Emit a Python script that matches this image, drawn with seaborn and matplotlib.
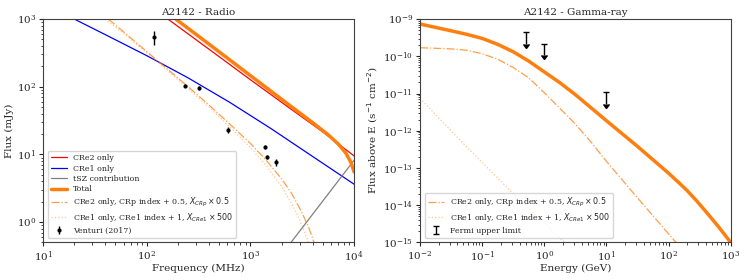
import numpy as np
import pandas as pd
import matplotlib
matplotlib.use("Agg")
import matplotlib.pyplot as plt
import matplotlib.ticker as mticker
import seaborn as sns

# ---- radio panel (MHz, mJy) ----
cre2_freq = [160, 398, 1000, 2512, 5012, 10000]
cre2_flux = [1000, 359, 127, 45.7, 21.4, 9.5]

cre1_freq = [20, 39.8, 100, 251, 631, 1585, 3981, 10000]
cre1_flux = [1000, 589, 288, 135, 58.9, 24.0, 9.33, 3.63]

tsz_freq = [2000, 10000]
tsz_flux = [0.33, 8.2]

total_freq = [190.5, 398, 1000, 2512, 3981, 5623, 7079, 8318, 9333, 10000]
total_flux = [1000, 427, 146, 50.1, 29.5, 19.5, 14.1, 10.5, 7.6, 5.5]

cre2_var_freq = [42.7, 63.1, 100, 158.5, 251, 398, 631, 1000, 1413, 1995, 2512,
                 3162, 3631, 4074, 4365]
cre2_var_flux = [1000, 603, 331, 182, 100, 53.7, 28.2, 14.5, 8.3, 4.37, 2.63,
                 1.35, 0.85, 0.52, 0.355]

cre1_var_freq = [39.8, 63.1, 100, 158.5, 251, 398, 631, 1000, 1413, 1995, 2512,
                 2951, 3311, 3631, 3802]
cre1_var_flux = [1000, 575, 316, 174, 93.3, 50.1, 25.7, 12.6, 6.92, 3.39, 1.86,
                 1.12, 0.74, 0.49, 0.355]

venturi_freq = [118, 235, 321, 608, 1383, 1456, 1780]
venturi_flux = [540, 104, 96, 23, 13, 9.2, 7.7]
venturi_err = [125, 6, 5, 2.5, 0.8, 0.6, 1.0]

# ---- gamma-ray panel (GeV, s^-1 cm^-2) ----
g_total_E = [0.01, 0.0178, 0.0316, 0.0562, 0.1, 0.178, 0.316, 0.562, 1.0, 1.78,
             3.16, 5.62, 10, 31.6, 100, 141, 200, 282, 398, 631, 1000]
g_total_F = [7.35e-10, 5.96e-10, 4.84e-10, 3.89e-10, 3.02e-10, 2.09e-10, 1.32e-10,
             7.41e-11, 3.80e-11, 1.95e-11, 9.33e-12, 4.17e-12, 1.86e-12, 3.80e-13,
             7.24e-14, 4.27e-14, 2.45e-14, 1.32e-14, 6.76e-15, 2.69e-15, 1.0e-15]

g_cre2_E = [0.01, 0.0316, 0.0562, 0.1, 0.178, 0.316, 0.562, 1.0, 1.78, 3.16, 5.62,
            10, 31.6, 100, 132]
g_cre2_F = [1.70e-10, 1.58e-10, 1.45e-10, 1.17e-10, 8.32e-11, 5.01e-11, 2.63e-11,
            1.05e-11, 3.98e-12, 1.51e-12, 5.01e-13, 1.51e-13, 1.58e-14, 1.70e-15,
            1.0e-15]

g_cre1_E = [0.01, 0.044, 0.28, 2.11]
g_cre1_F = [7.4e-12, 5.6e-13, 2.5e-14, 1.0e-15]

fermi_E = [0.5, 1.0, 10]
fermi_ul = [4.4e-10, 2.1e-10, 1.07e-11]

sns.set_style("ticks")
plt.rcParams["font.family"] = "serif"
plt.rcParams["font.serif"] = ["DejaVu Serif"]
plt.rcParams["mathtext.fontset"] = "dejavusans"
plt.rcParams["font.size"] = 7.5
plt.rcParams["axes.edgecolor"] = "0.25"

orange = "#ff7f0e"
lab_var2 = r"CRe2 only, CRp index + 0.5, $X_{CRp}\times 0.5$"
lab_var1 = r"CRe1 only, CRe1 index + 1, $X_{CRe1}\times 500$"

fig = plt.figure(figsize=(7.47, 2.8), dpi=100)
ax1 = fig.add_axes([0.0576, 0.134, 0.4164, 0.798])
ax2 = fig.add_axes([0.5623, 0.134, 0.4159, 0.798])


def curve(ax, x, y, **kw):
    df = pd.DataFrame({"x": x, "y": y})
    sns.lineplot(data=df, x="x", y="y", ax=ax, sort=False, estimator=None, **kw)


# radio
ax1.set_xscale("log")
ax1.set_yscale("log")
curve(ax1, cre2_freq, cre2_flux, color="red", lw=0.9, label="CRe2 only")
curve(ax1, cre1_freq, cre1_flux, color="blue", lw=0.9, label="CRe1 only")
curve(ax1, tsz_freq, tsz_flux, color="gray", lw=0.9, label="tSZ contribution")
curve(ax1, total_freq, total_flux, color=orange, lw=2.5, label="Total")
curve(ax1, cre2_var_freq, cre2_var_flux, color=orange, lw=0.9, alpha=0.75,
      linestyle="-.", label=lab_var2)
curve(ax1, cre1_var_freq, cre1_var_flux, color=orange, lw=0.9, alpha=0.45,
      linestyle=":", label=lab_var1)
ax1.errorbar(venturi_freq, venturi_flux, yerr=venturi_err, fmt="o", color="k",
             ms=2, elinewidth=1, capsize=0, label="Venturi (2017)")
ax1.set_xlim(10, 1e4)
ax1.set_ylim(0.5, 1e3)
ax1.set_xlabel("Frequency (MHz)", labelpad=0)
ax1.set_ylabel("Flux (mJy)", labelpad=2)
ax1.set_title("A2142 - Radio", fontsize=7.5, pad=3)
ax1.legend(loc="lower left", fontsize=5.7, labelspacing=0.3, framealpha=0.8,
           borderaxespad=0.6)

# gamma
ax2.set_xscale("log")
ax2.set_yscale("log")
curve(ax2, g_total_E, g_total_F, color=orange, lw=2.5)
curve(ax2, g_cre2_E, g_cre2_F, color=orange, lw=0.9, alpha=0.75, linestyle="-.",
      label=lab_var2)
curve(ax2, g_cre1_E, g_cre1_F, color=orange, lw=0.9, alpha=0.45, linestyle=":",
      label=lab_var1)
ax2.errorbar(fermi_E, fermi_ul, yerr=np.array(fermi_ul) * 0.5, uplims=True,
             fmt="none", ecolor="k", color="k", elinewidth=1, capsize=2,
             label="Fermi upper limit")
ax2.set_xlim(1e-2, 1e3)
ax2.set_ylim(1e-15, 1e-9)
ax2.set_xlabel("Energy (GeV)", labelpad=0)
ax2.set_ylabel(r"Flux above E (s$^{-1}$ cm$^{-2}$)", labelpad=2)
ax2.set_title("A2142 - Gamma-ray", fontsize=7.5, pad=3)
ax2.legend(loc="lower left", fontsize=5.7, labelspacing=0.3, framealpha=0.8,
           borderaxespad=0.6)

for ax in (ax1, ax2):
    ax.tick_params(labelsize=7.5, pad=2, length=3, width=0.8)
    ax.tick_params(which="minor", length=1.8, width=0.6)
    ax.xaxis.set_minor_formatter(mticker.NullFormatter())
    ax.yaxis.set_minor_formatter(mticker.NullFormatter())

fig.savefig("out.png", dpi=100)
